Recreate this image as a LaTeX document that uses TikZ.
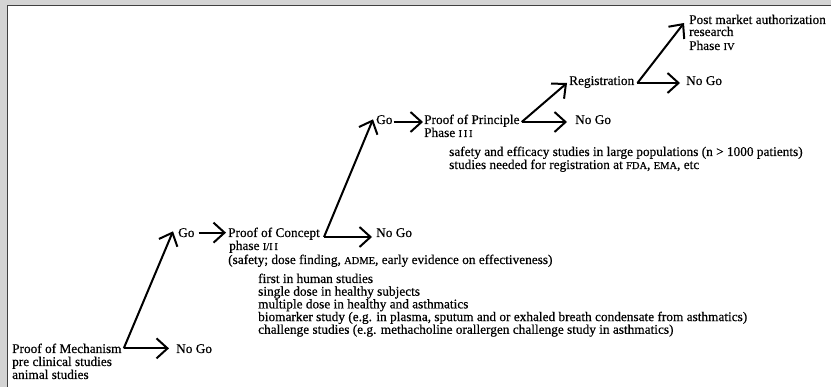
\documentclass[tikz,border=0pt]{standalone}
\usepackage{fontspec}
\setmainfont{Liberation Serif}[FakeBold=0.5]
\usetikzlibrary{arrows.meta}
\newcommand\fsc[1]{{\fontsize{10.5}{11}\selectfont #1}}
\begin{document}
\begin{tikzpicture}[x=1pt,y=-1pt,
  txt/.style={inner sep=0pt, anchor=base west, font=\fontsize{13.3}{13}\selectfont},
  arr/.style={line width=2pt, -{Straight Barb[length=11pt,width=20pt]}}]
\useasboundingbox (0,0) rectangle (831,387);
\fill[black!17] (0,0) rectangle (831,387);
\fill[white] (7,5) rectangle (831,387);
\draw[line width=1.5pt, black!75] (7.5,387) -- (7.5,5.5) -- (831,5.5);
% row 1
\node[txt] (pom) at (12,353) {Proof of Mechanism};
\node[txt] (pom2) at (12,366) {pre clinical studies};
\node[txt] (pom3) at (12,379) {animal studies};
\node[txt] (ng1) at (176,353) {No Go};
% row 2
\node[txt] (go1) at (178,237) {Go};
\node[txt] (poc) at (228,237) {Proof of Concept};
\node[txt] (poc2) at (229,250) {phase \fsc{I/I\,I}};
\node[txt] (poc3) at (228,264) {(safety; dose finding, \fsc{ADME}, early evidence on effectiveness)};
\node[txt] (l1) at (258,283) {first in human studies};
\node[txt] (l2) at (258,295.7) {single dose in healthy subjects};
\node[txt] (l3) at (258,308.4) {multiple dose in healthy and asthmatics};
\node[txt] (l4) at (258,321.1) {biomarker study (e.g. in plasma, sputum and or exhaled breath condensate from asthmatics)};
\node[txt] (l5) at (258,333.8) {challenge studies (e.g. methacholine orallergen challenge study in asthmatics)};
\node[txt] (ng2) at (376,237) {No Go};
% row 3
\node[txt] (go2) at (376,124) {Go};
\node[txt] (pop) at (424,124) {Proof of Principle};
\node[txt] (pop2) at (424,137) {Phase \fsc{I\,I\,I}};
\node[txt] (ng3) at (575,124) {No Go};
\node[txt] (se1) at (449,156) {safety and efficacy studies in large populations (n > 1000 patients)};
\node[txt] (se2) at (449,169) {studies needed for registration at \fsc{FDA}, \fsc{EMA}, etc};
% row 4
\node[txt] (reg) at (569,85) {Registration};
\node[txt] (ng4) at (686,85) {No Go};
% row 5
\node[txt] (pma) at (689,24) {Post market authorization};
\node[txt] (pma2) at (689,36) {research};
\node[txt] (pma3) at (689,50) {Phase \fsc{IV}};
% forks
\coordinate (f1) at ([xshift=2pt]pom.east);
\coordinate (f2) at ([xshift=4pt]poc.base east);
\coordinate (f3) at ([shift={(2,-2)}]pop.base east);
\coordinate (f4) at ([shift={(3,-2)}]reg.base east);
% connectors
\draw[arr, shorten >=7pt] (f1) -- (f1 -| ng1.west);
\draw[arr] (f1) -- ([shift={(-5,-6)}]go1.south west);
\draw[arr, shorten >=2pt] ([xshift=4pt]go1.east) -- (go1.east -| poc.west);
\draw[arr, shorten >=4pt] (f2) -- (f2 -| ng2.west);
\draw[arr] (f2) -- ([shift={(-3,-5)}]go2.south west);
\draw[arr, shorten >=1pt] ([shift={(1,-2)}]go2.base east) -- ([yshift=2pt]go2.base east -| pop.west);
\draw[arr, shorten >=8pt] (f3) -- (f3 -| ng3.west);
\draw[arr] (f3) -- ([shift={(-2,-2)}]reg.base west);
\draw[arr, shorten >=6pt] (f4) -- (f4 -| ng4.west);
\draw[arr] (f4) -- ([shift={(-5,-1)}]pma.base west);
\end{tikzpicture}
\end{document}
